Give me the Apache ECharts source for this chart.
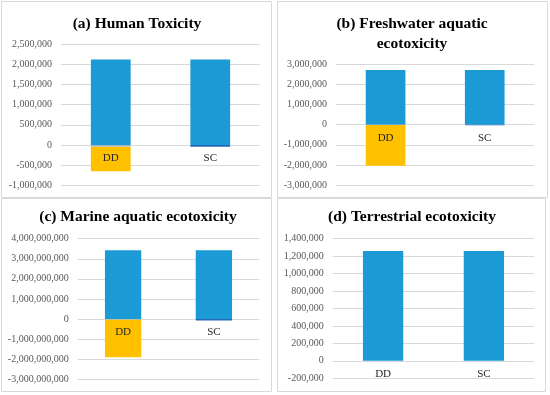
<!DOCTYPE html>
<html>
<head>
<meta charset="utf-8">
<script src="https://cdn.jsdelivr.net/npm/echarts@6/dist/echarts.min.js"></script>
<style>
html,body{margin:0;padding:0;background:#fff;}
#chart{width:550px;height:395px;}
</style>
</head>
<body>
<div id="chart"></div>
<script>
// ---- data ----
var categories = ['DD', 'SC'];
var panelTitles = ['(a) Human Toxicity', '(b) Freshwater aquatic\necotoxicity', '(c) Marine aquatic ecotoxicity', '(d) Terrestrial ecotoxicity'];

var humanPositive = [2120000, 2120000];
var humanMinor = [-40000, -40000];
var humanNegative = [-613000, null];

var freshPositive = [2720000, 2720000];
var freshMinor = [-20000, -30000];
var freshNegative = [-2020000, null];

var marinePositive = [3430000000, 3430000000];
var marineMinor = [-40000000, -70000000];
var marineNegative = [-1860000000, null];

var terrPositive = [1260000, 1260000];
var terrMinor = [null, null];
var terrNegative = [null, null];

var yMin = [-1000000, -3000000, -3000000000, -200000];
var yMax = [2500000, 3000000, 4000000000, 1400000];
var yInterval = [500000, 1000000, 1000000000, 200000];

// ---- layout ----
var grids = [
  {left: 61, top: 44.3, width: 199, height: 141},
  {left: 336, top: 64.3, width: 198.3, height: 120.7},
  {left: 77.7, top: 238.7, width: 181.6, height: 140.6},
  {left: 332.7, top: 238.7, width: 201.6, height: 139.6}
];
var titlePos = [
  {x: 137, y: 24},
  {x: 412, y: 33.5},
  {x: 138, y: 217},
  {x: 412, y: 217}
];
var panels = [[1, 1, 270, 196], [277, 1, 270, 196], [1, 198, 270, 193], [277, 198, 268, 193]];

var positives = [humanPositive, freshPositive, marinePositive, terrPositive];
var minors = [humanMinor, freshMinor, marineMinor, terrMinor];
var negatives = [humanNegative, freshNegative, marineNegative, terrNegative];

var BLUE = '#1b9ad6', ORANGE = '#ffc000', GRAY = '#9fb6cc', DARKBLUE = '#2468b8';
var FONT = '"Liberation Serif", "DejaVu Serif", serif';

function fmt(v) { return Number(v).toLocaleString('en-US'); }

var option = {
  animation: false,
  backgroundColor: '#fff',
  grid: grids.map(function (g) { return {left: g.left, top: g.top, width: g.width, height: g.height, containLabel: false}; }),
  xAxis: [], yAxis: [], series: [], graphic: []
};

for (var i = 0; i < 4; i++) {
  // place the category axis at the value-axis zero line
  var zeroOffset = -((0 - yMin[i]) / (yMax[i] - yMin[i])) * grids[i].height;
  option.xAxis.push({
    type: 'category', gridIndex: i, data: categories, position: 'bottom',
    offset: zeroOffset, z: 10,
    axisLine: {show: false, onZero: false},
    axisTick: {show: false},
    axisLabel: {fontFamily: FONT, fontSize: 11, color: '#262626', margin: 8}
  });
  option.yAxis.push({
    type: 'value', gridIndex: i, min: yMin[i], max: yMax[i], interval: yInterval[i],
    axisLine: {show: false}, axisTick: {show: false},
    splitLine: {lineStyle: {color: '#d9d9d9', width: 1}},
    axisLabel: {fontFamily: FONT, fontSize: 10, color: '#595959', margin: 9, formatter: fmt}
  });
  var st = 'p' + i;
  option.series.push({
    type: 'bar', xAxisIndex: i, yAxisIndex: i, stack: st, barWidth: '40%',
    data: positives[i], itemStyle: {color: BLUE}
  });
  option.series.push({
    type: 'bar', xAxisIndex: i, yAxisIndex: i, stack: st, barWidth: '40%',
    data: minors[i],
    itemStyle: {color: function (p) { return p.dataIndex === 0 ? GRAY : DARKBLUE; }}
  });
  option.series.push({
    type: 'bar', xAxisIndex: i, yAxisIndex: i, stack: st, barWidth: '40%',
    data: negatives[i], itemStyle: {color: ORANGE}
  });
  option.graphic.push({
    type: 'rect', z: -10, silent: true,
    shape: {x: panels[i][0] + 0.5, y: panels[i][1] + 0.5, width: panels[i][2], height: panels[i][3]},
    style: {fill: '#fff', stroke: '#d9d9d9', lineWidth: 1}
  });
  option.graphic.push({
    type: 'text', silent: true, x: titlePos[i].x, y: titlePos[i].y,
    style: {text: panelTitles[i], font: 'bold 15.5px ' + FONT, fill: '#000',
      textAlign: 'center', textVerticalAlign: 'middle', lineHeight: 20}
  });
}

var chart = echarts.init(document.getElementById('chart'), null, {renderer: 'canvas'});
chart.setOption(option);
</script>
</body>
</html>
